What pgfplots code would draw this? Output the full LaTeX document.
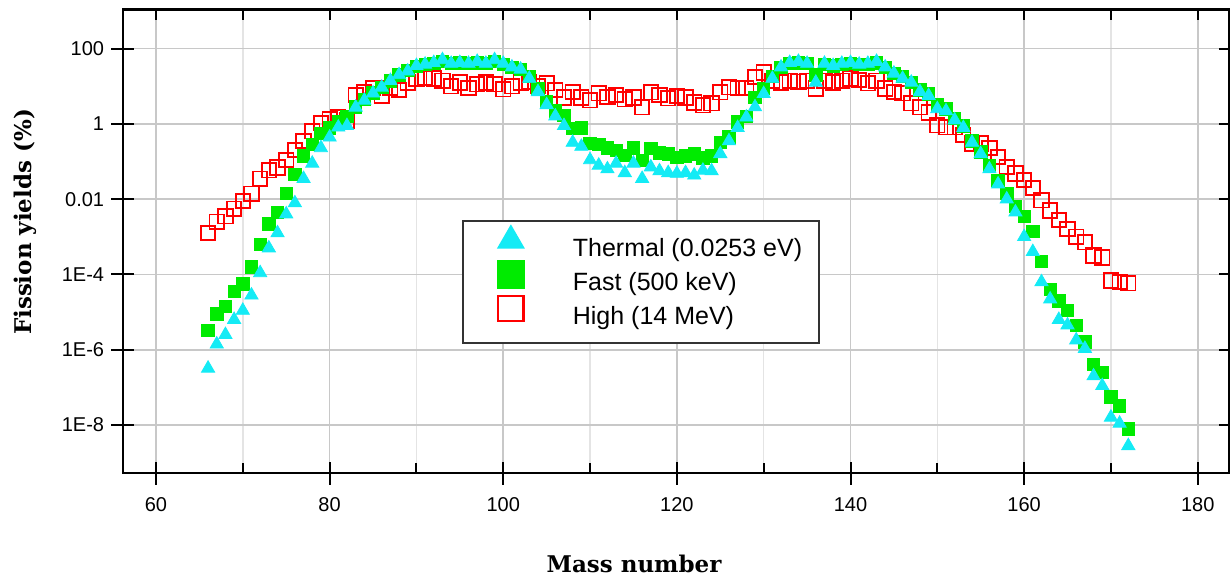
\documentclass[border=0pt]{standalone}
\usepackage{fontspec}
\setmainfont{Liberation Sans}
\newfontfamily\labelfont{DejaVu Serif}
\usepackage{pgfplots}
\usepackage{pgfplotstable}
\pgfplotsset{compat=1.18}
\definecolor{cyanc}{RGB}{20,235,245}
\definecolor{greenc}{RGB}{0,235,0}
\definecolor{redc}{RGB}{255,0,0}
\definecolor{gridmaj}{RGB}{200,200,200}
\definecolor{gridmin}{RGB}{228,228,228}

\pgfplotstableread{
A th fa hi
66 3.2e-7 3.2e-6 1.26e-3
67 1.4e-6 8.9e-6 2.5e-3
68 2.5e-6 1.4e-5 3.5e-3
69 6.3e-6 3.5e-5 5.6e-3
70 1.1e-5 5.6e-5 8.9e-3
71 2.8e-5 1.6e-4 0.014
72 1.1e-4 6.3e-4 0.035
73 5.0e-4 2.2e-3 0.058
74 1.26e-3 4.5e-3 0.069
75 4.0e-3 0.014 0.11
76 7.9e-3 0.045 0.2
77 0.035 0.14 0.35
78 0.089 0.28 0.63
79 0.23 0.56 1.05
80 0.44 0.79 1.3
81 0.81 1.12 1.5
82 0.89 1.6 1.23
83 2.75 2.8 5.8
84 4.2 4.5 7.1
85 6.5 6.6 8.9
86 9.3 9.3 5.6
87 14 14 8.9
88 20 20 7.9
89 25 26 12.6
90 35 33 16
91 38 38 16.6
92 42 40 16
93 50 45 14
94 40 40 10
95 42 42 12.6
96 40 40 8.9
97 45 42 11.2
98 40 40 12.6
99 50 45 11.2
100 40 38 8.3
101 32 32 10
102 28 28 12.6
103 16 18 13.2
104 7.1 8.7 10
105 3.2 4.0 12
106 1.6 2.2 7.9
107 0.89 1.66 5.0
108 0.32 0.76 7.1
109 0.25 0.79 5.0
110 0.11 0.30 4.2
111 0.079 0.28 6.5
112 0.063 0.23 5.2
113 0.089 0.20 5.8
114 0.05 0.145 4.5
115 0.089 0.23 5.0
116 0.035 0.107 2.75
117 0.071 0.22 6.9
118 0.056 0.17 5.8
119 0.05 0.16 4.8
120 0.048 0.13 5.5
121 0.05 0.14 5.0
122 0.043 0.16 3.7
123 0.058 0.126 3.1
124 0.056 0.14 3.5
125 0.16 0.32 6.9
126 0.35 0.45 9.3
127 0.79 1.12 8.9
128 1.5 1.6 8.9
129 2.8 5.0 17.4
130 6.3 8.9 23
131 16 18 14
132 32 32 12.6
133 42 40 14
134 45 42 13.2
135 40 40 14
136 12.6 20 8.7
137 40 38 14
138 35 35 12.6
139 40 38 14
140 42 40 16
141 38 38 14.5
142 40 38 12
143 45 42 14
144 32 32 8.7
145 22 22 7.1
146 16 18 6.5
147 12.6 12.6 3.5
148 7.1 7.9 2.75
149 5.6 6.3 2.0
150 2.5 3.2 0.91
151 2.2 2.5 0.81
152 1.26 1.4 0.81
153 0.79 0.89 0.5
154 0.32 0.35 0.30
155 0.16 0.18 0.30
156 0.063 0.079 0.23
157 0.025 0.032 0.13
158 0.01 0.014 0.071
159 4.5e-3 6.3e-3 0.048
160 1e-3 3.5e-3 0.032
161 4e-4 1.4e-3 0.02
162 6.3e-5 2.2e-4 9.3e-3
163 2.2e-5 4.0e-5 5.0e-3
164 6.3e-6 2.0e-5 2.8e-3
165 4.5e-6 1.1e-5 1.6e-3
166 1.8e-6 4.5e-6 1e-3
167 1.07e-6 1.6e-6 7.1e-4
168 2.0e-7 4.0e-7 3.2e-4
169 1.1e-7 2.5e-7 2.8e-4
170 1.6e-8 5.6e-8 6.9e-5
171 1.1e-8 3.2e-8 6.3e-5
172 2.8e-9 7.9e-9 5.8e-5
}\yields

\begin{document}
\begin{tikzpicture}
\useasboundingbox (-61.5pt,-53.5pt) rectangle (554pt,236.5pt);
\begin{axis}[
  scale only axis, width=553pt, height=231.75pt,
  xmin=56.2, xmax=183.6, ymode=log, ymin=5.3e-10, ymax=1090,
  xtick={60,80,...,180}, xticklabels={60,80,100,120,140,160,180},
  minor xtick={70,90,...,170},
  ytick={1e-8,1e-6,1e-4,1e-2,1,100},
  yticklabels={1E-8,1E-6,1E-4,0.01,1,100},
  yminorticks=false,
  xtick pos=left, ytick pos=left,
  tick align=center, major tick length=11.5pt, minor tick length=5pt,
  every minor tick/.append style={yshift=2.5pt},
  every tick/.append style={black, line width=1pt},
  xmajorgrids, xminorgrids, ymajorgrids,
  major grid style={draw=gridmaj, line width=0.8pt},
  minor grid style={draw=gridmin, line width=0.8pt},
  axis line style={line width=1.3pt},
  ticklabel style={font=\fontsize{10}{12}\selectfont},
  xticklabel style={anchor=center, yshift=-10.25pt},
  yticklabel style={anchor=east, inner sep=0pt, xshift=-3.5pt},
  xlabel={Mass number},
  ylabel={Fission yields (\%)},
  label style={font=\labelfont\bfseries\fontsize{11.5}{13.5}\selectfont},
  xlabel style={at={(axis description cs:0.462,0)}, anchor=base, yshift=-49.5pt},
  ylabel style={at={(axis description cs:-0.0886,0.5415)}, anchor=center},
  legend image code/.code={\path[draw=none,fill=none] (-15.6pt,-11pt) rectangle (31pt,12pt); \draw[#1] plot coordinates {(0pt,4.2pt)};},
  legend style={at={(axis description cs:0.3065,0.5458)}, anchor=north west,
    draw=black!80, line width=0.9pt, fill=white,
    inner xsep=8.4pt, inner ysep=2pt,
    row sep={17pt,between origins}, column sep=0pt,
    nodes={inner sep=0pt},
    font=\fontsize{12.5}{15}\selectfont},
  legend cell align=left,
  cells={anchor=base west},
]
\addlegendimage{only marks, mark=triangle*, mark size=7.2pt, color=cyanc}
\addlegendentry{Thermal (0.0253 eV)}
\addlegendimage{only marks, mark=square*, mark size=6.7pt, color=greenc}
\addlegendentry{Fast (500 keV)}
\addlegendimage{only marks, mark=square, mark size=6.3pt, color=redc, mark options={line width=1.1pt}}
\addlegendentry{High (14 MeV)}

\addplot[forget plot, only marks, mark=square, mark size=3.6pt, color=redc, mark options={line width=0.9pt}] table[x=A, y=hi] {\yields};
\addplot[forget plot, only marks, mark=square*, mark size=3.1pt, color=greenc] table[x=A, y=fa] {\yields};
\addplot[forget plot, only marks, mark=triangle*, mark size=3.8pt, color=cyanc] table[x=A, y=th] {\yields};
\end{axis}
\begin{axis}[
  scale only axis, width=553pt, height=231.75pt,
  xmin=56.2, xmax=183.6, ymode=log, ymin=5.3e-10, ymax=1090,
  xtick={60,70,...,180}, xticklabels={},
  ytick={1e-8,1e-6,1e-4,1e-2,1,100}, yticklabels={},
  yminorticks=false, xminorticks=false,
  xtick pos=right, ytick pos=right,
  tick align=inside, major tick length=5pt,
  every tick/.append style={black, line width=1pt},
  axis line style={line width=1.3pt},
]
\end{axis}
\end{tikzpicture}
\end{document}
